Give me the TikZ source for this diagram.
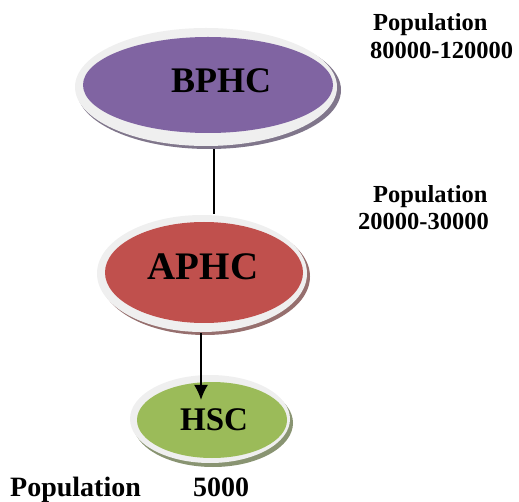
\documentclass[tikz,border=0pt]{standalone}
\usepackage{fontspec}
\setmainfont{Liberation Serif}
\usetikzlibrary{arrows.meta,shapes.geometric}

\definecolor{bphcpurple}{HTML}{8064A2}
\definecolor{aphcred}{HTML}{C0504D}
\definecolor{hscgreen}{HTML}{9BBB59}
\definecolor{rimgray}{HTML}{EFEFEF}

\begin{document}
\begin{tikzpicture}[x=1pt, y=-1pt,
    tier/.style={ellipse, inner sep=0pt},
    tiername/.style={anchor=base, inner sep=0pt, font=\bfseries\fontsize{#1}{#1}\selectfont},
    poptext/.style={anchor=base west, inner sep=0pt, font=\bfseries\fontsize{#1}{#1}\selectfont}]
  \useasboundingbox (0,0) rectangle (519,502);

  % shadows and light rims
  \fill[bphcpurple!35!gray] (209,90) ellipse (132 and 59);
  \fill[rimgray] (206,87) ellipse (131 and 59);
  \fill[aphcred!35!gray] (205,276.5) ellipse (105 and 58.5);
  \fill[rimgray] (202,273.5) ellipse (105 and 58.5);
  \fill[hscgreen!35!gray] (213,423) ellipse (80 and 44);
  \fill[rimgray] (210,419) ellipse (80 and 44);

  \node[tier, fill=bphcpurple, minimum width=250pt, minimum height=96pt] (bphc) at (208,85) {};
  \node[tier, fill=aphcred, minimum width=198pt, minimum height=101pt] (aphc) at (204,272.5) {};
  \node[tier, fill=hscgreen, minimum width=150pt, minimum height=76pt] (hsc) at (212,420) {};

  \node[tiername=36] (bphc name) at (221,93) {BPHC};
  \node[tiername=39] (aphc name) at (203,280) {APHC};
  \node[tiername=33] (hsc name) at (214,430) {HSC};

  \coordinate (link) at (214,0);
  \coordinate (drop) at (201,0);
  \draw[line width=1.2pt, shorten <=16pt, shorten >=8pt]
    (bphc.south -| link) -- (aphc.north -| link);
  \draw[line width=1.2pt, -{Latex[length=15pt,width=14pt]}, shorten <=10pt, shorten >=-18pt]
    (aphc.south -| drop) -- (hsc.north -| drop);

  \node[poptext=24.5] (bphc pop) at (373,31) {Population};
  \node[poptext=24.5] (bphc range) at (370,59) {80000-120000};
  \node[poptext=24.5] (aphc pop) at (373,203) {Population};
  \node[poptext=24.5] (aphc range) at (358,230) {20000-30000};
  \node[poptext=28] (hsc pop) at (10,496) {Population};
  \node[poptext=28] (hsc range) at (193,496) {5000};
\end{tikzpicture}
\end{document}
